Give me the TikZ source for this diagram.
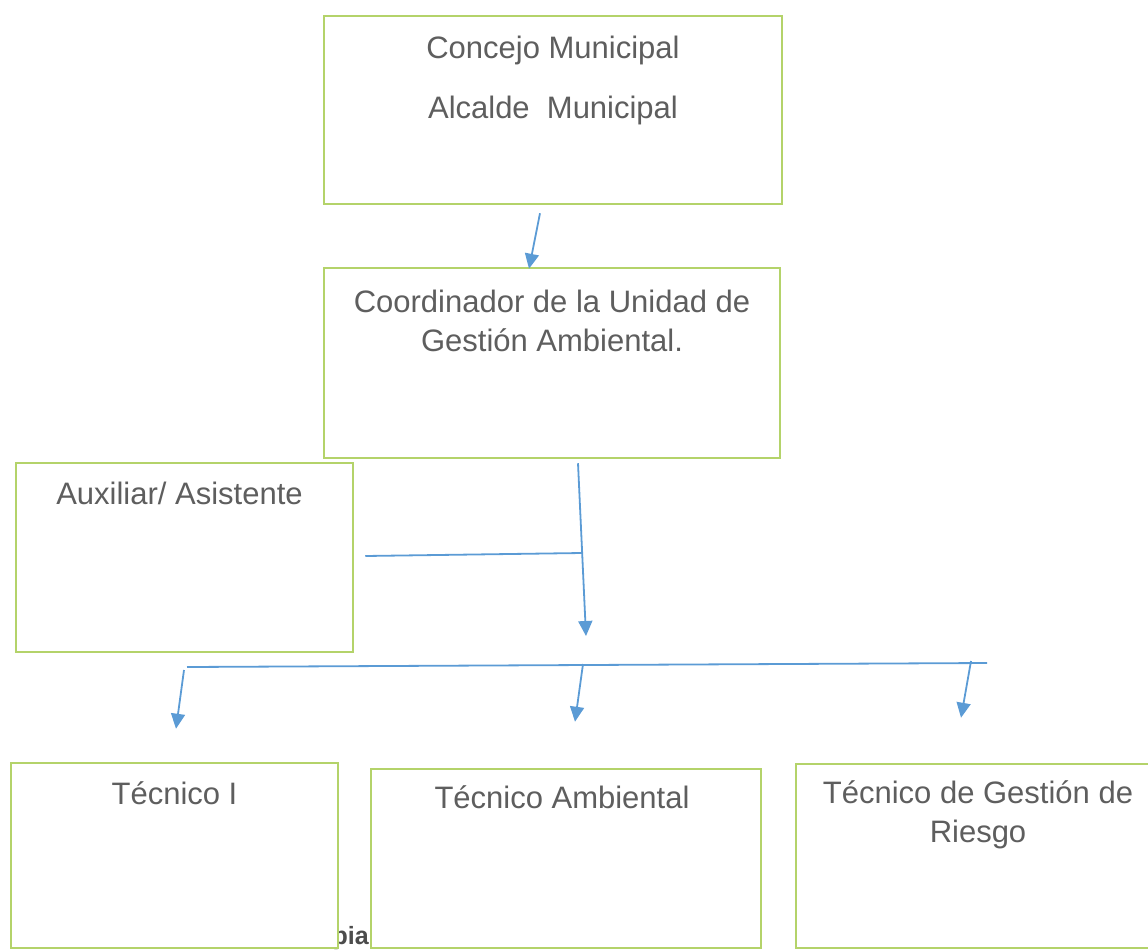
\documentclass[tikz,border=0pt]{standalone}
\usepackage{fontspec}
\setmainfont{Liberation Sans}
\usetikzlibrary{arrows.meta,positioning}
\definecolor{boxgreen}{HTML}{B4D36A}
\definecolor{linkblue}{HTML}{5B9BD5}
\definecolor{txtgray}{HTML}{5E5E5E}

\begin{document}
\begin{tikzpicture}[x=1pt, y=-1pt, font=\fontsize{31}{39}\selectfont, text=txtgray,
  box/.style={draw=boxgreen, line width=2.5pt, fill=white, inner sep=0pt},
  lbl/.style={anchor=base, align=center, inner sep=0pt},
  link/.style={draw=linkblue, line width=1.8pt},
  arr/.style={link, -{Triangle[length=15pt,width=14pt]}}]
  \useasboundingbox (0,0) rectangle (1148,950);

  \node[font=\bfseries\fontsize{25}{28}\selectfont, text=black!70, anchor=base east, inner sep=0pt] (stamp) at (369,944) {pia};

  \node[box, minimum width=458pt, minimum height=188pt] (concejo) at (553,110) {};
  \node[box, minimum width=456pt, minimum height=190pt] (coord) at (552,363) {};
  \node[box, minimum width=337pt, minimum height=189pt] (aux) at (184.5,557.5) {};
  \node[box, minimum width=327pt, minimum height=185pt] (tec1) at (174.5,855.5) {};
  \node[box, minimum width=390pt, minimum height=179pt] (tecamb) at (566,858.5) {};
  \node[box, minimum width=364pt, minimum height=184pt] (tecgr) at (978,856) {};

  % base = baseline of the last line
  \node[lbl] (concejo-t) at ([yshift=-104pt]concejo.north) {Concejo Municipal\\[21pt]Alcalde\ \ Municipal};
  \node[lbl] (coord-t) at ([yshift=-85pt]coord.north) {Coordinador de la Unidad de\\Gestión Ambiental.};
  \node[lbl] (aux-t) at ([xshift=-5pt,yshift=-43pt]aux.north) {Auxiliar/ Asistente};
  \node[lbl] (tec1-t) at ([yshift=-43pt]tec1.north) {Técnico I};
  \node[lbl] (tecamb-t) at ([xshift=-4pt,yshift=-41pt]tecamb.north) {Técnico Ambiental};
  \node[lbl] (tecgr-t) at ([yshift=-80pt]tecgr.north) {Técnico de Gestión de\\Riesgo};

  % conexiones
  \coordinate (hub) at (582,553);
  \coordinate (drop) at (586,636);
  \coordinate (busL) at (187,667);
  \coordinate (busR) at (987,663);
  \coordinate (tap1) at (184,670);
  \coordinate (tap2) at (583,664);
  \coordinate (tap3) at (971,661);

  \draw[arr] ([xshift=-13pt,yshift=-8pt]concejo.south) -- ([xshift=-23pt,yshift=-2pt]coord.north);
  \draw[arr] ([xshift=26pt,yshift=-4pt]coord.south) -- (drop);
  \draw[link] ([xshift=11pt,yshift=1.5pt]aux.east) -- (hub);
  \draw[link] (busL) -- (busR);
  \draw[arr] (tap1) -- ([xshift=1.5pt,yshift=33pt]tec1.north);
  \draw[arr] (tap2) -- ([xshift=9pt,yshift=46pt]tecamb.north);
  \draw[arr] (tap3) -- ([xshift=-17pt,yshift=45pt]tecgr.north);
\end{tikzpicture}
\end{document}
